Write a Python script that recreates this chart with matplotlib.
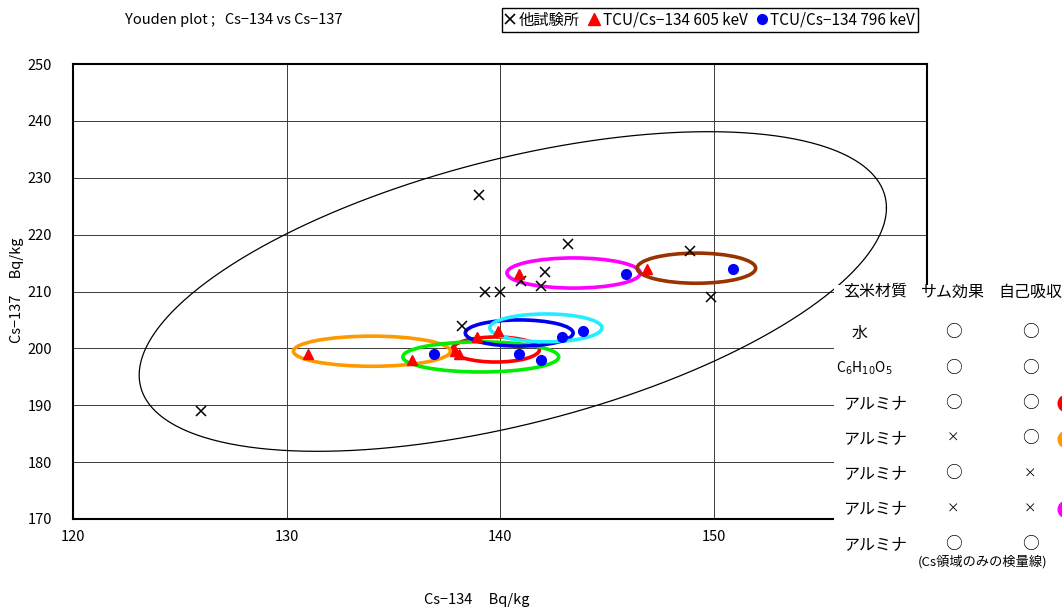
import numpy as np
import matplotlib
matplotlib.use("Agg")
import matplotlib.pyplot as plt
from matplotlib.patches import Ellipse, Rectangle
from matplotlib.lines import Line2D

plt.rcParams['font.family'] = ['Noto Sans CJK JP', 'DejaVu Sans']

# 他試験所の結果 (Cs-134, Cs-137)
other_x = [126.0, 139.0, 139.3, 140.0, 138.2, 143.2, 142.1, 141.9, 141.0, 148.9, 149.9]
other_y = [189.0, 227.0, 210.0, 210.0, 204.0, 218.4, 213.4, 211.0, 211.8, 217.1, 209.0]

# TCU 605 keV / 796 keV
tcu605_x = [131.0, 135.9, 137.9, 138.1, 138.9, 139.9, 140.9, 146.9]
tcu605_y = [199.0, 198.0, 199.5, 199.0, 202.0, 203.0, 213.0, 214.0]
tcu796_x = [136.9, 140.9, 141.9, 142.9, 143.9, 145.9, 150.9]
tcu796_y = [199.0, 199.0, 198.0, 202.0, 203.0, 213.0, 214.0]

# 各条件の楕円 (中心x, 中心y, 幅, 高さ)
group_colors = ['#FF0000', '#FF9900', '#00EE00', '#0000EE', '#22EEFF', '#FF00FF', '#993300']
group_cx = [139.8, 134.0, 139.1, 140.9, 142.15, 143.45, 149.2]
group_cy = [199.8, 199.5, 198.5, 202.7, 203.6, 213.25, 214.1]
group_w = [4.1, 7.35, 7.3, 5.05, 5.25, 6.25, 5.55]
group_h = [4.4, 5.3, 5.3, 4.6, 4.9, 5.3, 5.3]

# 全体の楕円
big_cx, big_cy = 140.6, 210.0
big_ax, big_ay, big_phase = 17.5, 28.1, 1.02

# 条件表
table_header = ['玄米材質', 'サム効果', '自己吸収']
table_material = ['水', r'C$_6$H$_{10}$O$_5$', 'アルミナ', 'アルミナ', 'アルミナ', 'アルミナ', 'アルミナ']
table_sum = ['○', '○', '○', '×', '○', '×', '○']
table_self = ['○', '○', '○', '○', '×', '×', '○']
table_dot = [None, None, '#FF0000', '#FF9900', None, '#FF00FF', None]

W, H = 1062, 609
fig = plt.figure(figsize=(W / 100, H / 100), dpi=100)
ax = fig.add_axes([73 / W, 1 - 519 / H, (927 - 73) / W, (519 - 64) / H])

ax.set_xlim(120, 160)
ax.set_ylim(170, 250)
ax.set_xticks([120, 130, 140, 150, 160])
ax.set_yticks(np.arange(170, 251, 10))
ax.grid(True, color='#3a3a3a', lw=0.7)
ax.set_axisbelow(True)
ax.tick_params(length=0, labelsize=10.5)
ax.tick_params(axis='y', pad=15)
ax.tick_params(axis='x', pad=8)
for s in ax.spines.values():
    s.set_linewidth(1.5)

t = np.linspace(0, 2 * np.pi, 500)
ax.plot(big_cx + big_ax * np.cos(t), big_cy + big_ay * np.cos(t - big_phase),
        color='black', lw=0.9, zorder=2)

for c, x, y, w, h in zip(group_colors, group_cx, group_cy, group_w, group_h):
    ax.add_patch(Ellipse((x, y), w, h, fill=False, edgecolor=c, lw=2.6, zorder=3))

ax.plot(other_x, other_y, 'x', color='black', ms=7, mew=1.1, zorder=4)
ax.plot(tcu605_x, tcu605_y, '^', color='#FF0000', ms=7, zorder=4)
ax.plot(tcu796_x, tcu796_y, 'o', color='#0000FF', ms=7, zorder=4)

fig.text(125 / W, 1 - 20 / H, 'Youden plot ;   Cs\u2212134 vs Cs\u2212137', fontsize=10.5, va='center')
fig.text(17 / W, 1 - 290 / H, 'Cs\u2212137     Bq/kg', rotation=90, fontsize=10.5, va='center', ha='center')
fig.text(477 / W, 1 - 600 / H, 'Cs\u2212134     Bq/kg', fontsize=10.5, va='center', ha='center')

handles = [Line2D([], [], ls='none', marker='x', color='black', ms=7, mew=1.2),
           Line2D([], [], ls='none', marker='^', color='#FF0000', ms=8),
           Line2D([], [], ls='none', marker='o', color='#0000FF', ms=7)]
leg = fig.legend(handles, ['他試験所', 'TCU/Cs\u2212134 605 keV', 'TCU/Cs\u2212134 796 keV'],
                 loc='center', bbox_to_anchor=(710 / W, 1 - 20 / H), ncol=3,
                 fancybox=False, edgecolor='black', framealpha=1, fontsize=11,
                 handlelength=0.7, handletextpad=0.2, columnspacing=0.6, borderpad=0.2,
                 borderaxespad=0)
leg.get_frame().set_linewidth(1.0)

# 表の背景
fig.add_artist(Rectangle((834 / W, 1 - 580 / H), (W - 834) / W, (580 - 285) / H,
                         transform=fig.transFigure, facecolor='white', edgecolor='none', zorder=5))

col_x = [875, 953, 1030]
for x, s in zip(col_x, table_header):
    fig.text(x / W, 1 - 292 / H, s, fontsize=11.5, ha='center', va='center', zorder=6)
for i in range(len(table_material)):
    y = 1 - (333 + 35.2 * i) / H
    mx = 860 if i == 0 else (864 if i == 1 else 875)
    fig.text(mx / W, y, table_material[i], fontsize=11.5 if i != 1 else 10,
             ha='center', va='center', zorder=6)
    fig.text(953 / W, y, table_sum[i], fontsize=12 if table_sum[i] == '○' else 9,
             ha='center', va='center', zorder=6)
    fig.text(1030 / W, y, table_self[i], fontsize=12 if table_self[i] == '○' else 9,
             ha='center', va='center', zorder=6)
    if table_dot[i]:
        fig.add_artist(Line2D([1066 / W], [y], marker='o', ms=12, color=table_dot[i],
                              transform=fig.transFigure, zorder=6))
fig.text(983 / W, 1 - 562 / H, '(Cs領域のみの検量線)', fontsize=9.5, ha='center', va='center', zorder=6)

fig.savefig('out.png', dpi=100)
